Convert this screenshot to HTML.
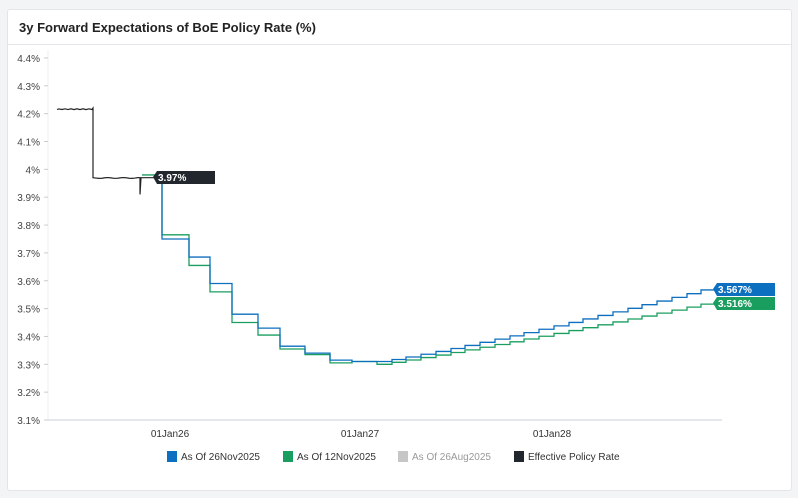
<!DOCTYPE html>
<html><head><meta charset="utf-8"><style>
body{margin:0;background:#f3f4f6;width:798px;height:498px;overflow:hidden;font-family:"Liberation Sans",sans-serif}
.card{position:absolute;left:7px;top:9px;width:783px;height:480px;background:#fff;border:1px solid #e3e5e8;border-radius:3px}
.title{position:absolute;left:11px;top:10px;font-size:13px;font-weight:bold;color:#222}
.hr{position:absolute;left:0;right:0;top:34px;border-top:1px solid #e3e5e8}
</style></head><body>
<div class="card"><div class="title">3y Forward Expectations of BoE Policy Rate (%)</div><div class="hr"></div></div>
<svg id="s" width="798" height="498" style="position:absolute;left:0;top:0" font-family="Liberation Sans, sans-serif"></svg>
<script>
const s=document.getElementById('s');let h='';
const Y=v=>420-(v-3.1)*278.5;
h+='<line x1="48" y1="50" x2="48" y2="420" stroke="#eef0f2"/>';
for(let i=0;i<=13;i++){const v=3.1+i*0.1,y=Y(v);let t=(Math.round(v*10)/10).toString();
h+=`<text x="40" y="${y+4}" font-size="10" fill="#444" text-anchor="end">${t}%</text><line x1="44" y1="${y}" x2="48" y2="${y}" stroke="#ccc"/>`;}
h+='<line x1="48" y1="420" x2="722" y2="420" stroke="#c9d0d8"/>';
[[170,'01Jan26'],[360,'01Jan27'],[552,'01Jan28']].forEach(([x,t])=>h+=`<text x="${x}" y="437" font-size="10" fill="#333" text-anchor="middle">${t}</text>`);
function step(pts,col){let d='';pts.forEach((p,i)=>{d+=(i?'H'+p[0]+'V'+Y(p[1]):'M'+p[0]+','+Y(p[1]));});return `<path d="${d}" fill="none" stroke="${col}" stroke-width="1.3"/>`;}
const xs=[162,189,210,232,258,280,305,330,352,377];
const bv=[3.75,3.685,3.59,3.48,3.43,3.365,3.34,3.315,3.31];
const gv=[3.765,3.655,3.56,3.45,3.405,3.355,3.335,3.305,3.31];
let B=[[155,3.97],[162,3.97]],G=[[142,3.98],[162,3.98]];
for(let i=0;i<9;i++){B.push([xs[i],bv[i]]);G.push([xs[i],gv[i]]);}
const n=23;for(let k=0;k<n;k++){const x=377+k*(716-377)/n;const f=k/(n-1);B.push([Math.round(x),3.31+(3.567-3.31)*Math.pow(f,1.15)]);G.push([Math.round(x),3.30+(3.516-3.30)*Math.pow(f,1.1)]);}
B.push([716,3.567]);G.push([716,3.516]);
h+=step(G,'#1a9e5f')+step(B,'#0d6fbf');
let d='M57,'+Y(4.215);for(let x=59;x<=93;x+=3)d+=`L${x},${Y(4.216+Math.sin(x)*0.0015)}`;
d+=`L93,${Y(4.22)}L93,${Y(3.97)}`;for(let x=96;x<=140;x+=3)d+=`L${x},${Y(3.969+Math.sin(x*1.7)*0.0015)}`;
d+=`L140,${Y(3.97)}L140,${Y(3.91)}L141,${Y(3.97)}L155,${Y(3.97)}`;
h+=`<path d="${d}" fill="none" stroke="#222" stroke-width="1.2"/>`;
function lab(x,y,t,c){h+=`<path d="M${x},${y+6} L${x+4},${y} H${x+62} V${y+13} H${x+4} Z" fill="${c}"/><text x="${x+5}" y="${y+10}" font-size="10" font-weight="bold" fill="#fff">${t}</text>`;}
lab(153,171,'3.97%','#22272d');lab(713,283,'3.567%','#0d6fbf');lab(713,297,'3.516%','#1a9e5f');
[[167,'#0d6fbf','As Of 26Nov2025','#333'],[283,'#1a9e5f','As Of 12Nov2025','#333'],[398,'#c6c6c6','As Of 26Aug2025','#999'],[514,'#22272d','Effective Policy Rate','#333']].forEach(([x,c,t,tc])=>{h+=`<rect x="${x}" y="451" width="10" height="11" fill="${c}"/><text x="${x+14}" y="460" font-size="10" fill="${tc}">${t}</text>`;});
s.innerHTML=h;
</script>
</body></html>
